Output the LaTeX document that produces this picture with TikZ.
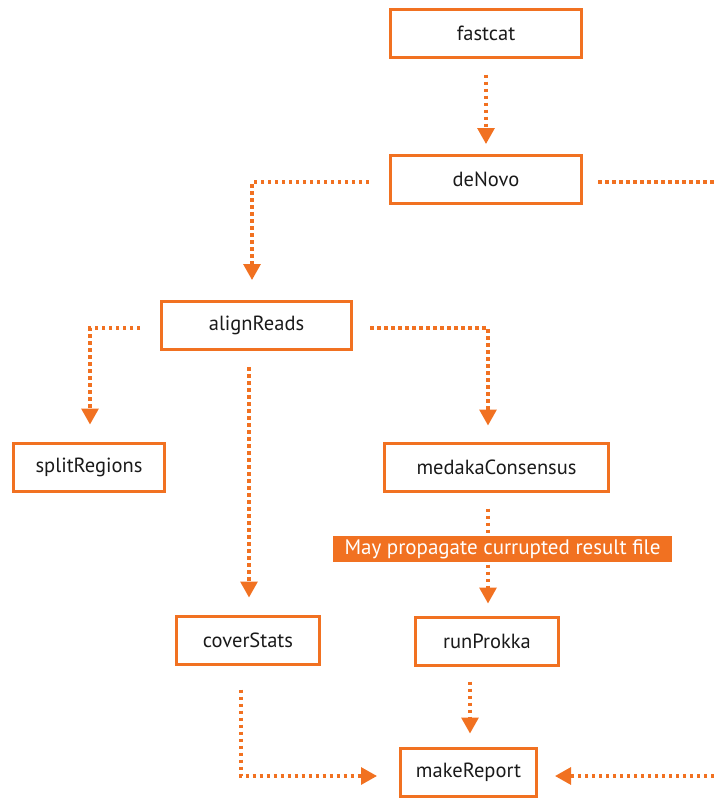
\documentclass[tikz,border=0pt]{standalone}
\usepackage{fontspec}
\setmainfont{PT Sans}
\usetikzlibrary{arrows.meta,calc}
\definecolor{flowor}{RGB}{241,113,33}
\definecolor{ink}{RGB}{26,26,26}
\tikzset{
  stepbox/.style={draw=flowor, line width=3pt, fill=white, rectangle,
    minimum height=48pt, inner sep=0pt, text=ink, font=\fontsize{20.5}{24}\selectfont},
  flow/.style={draw=flowor, line width=3.1pt, dash pattern=on 3.5pt off 3.5pt,
    -{Triangle[width=17pt,length=16pt]}},
  flowfree/.style={draw=flowor, line width=3.1pt, dash pattern=on 3.5pt off 3.5pt},
  warnlabel/.style={fill=flowor, text=white, inner sep=0pt, minimum height=26pt,
    minimum width=339pt, font=\fontsize{21}{24}\selectfont}
}
\begin{document}
\begin{tikzpicture}[x=1pt,y=-1pt]
\useasboundingbox (0,0) rectangle (714,798);

% pipeline steps
\node[stepbox, minimum width=191pt] (fastcat) at (486,33) {fastcat};
\node[stepbox, minimum width=191pt] (deNovo) at (486,179.5) {deNovo};
\node[stepbox, minimum width=190pt] (alignReads) at (256.5,325.5) {alignReads};
\node[stepbox, minimum width=151pt] (splitRegions) at (89,467) {splitRegions};
\node[stepbox, minimum width=224pt] (medaka) at (496.5,467) {medakaConsensus};
\node[stepbox, minimum width=143pt] (coverStats) at (248,640) {coverStats};
\node[stepbox, minimum width=143pt] (runProkka) at (487,641) {runProkka};
\node[stepbox, minimum width=136pt] (makeReport) at (468.5,772) {makeReport};

% loose ends leaving the right margin
\coordinate (rightTop) at (714,182);
\coordinate (rightBottom) at (714,776);

% connectors
\draw[flow, shorten <=16pt, shorten >=10pt] (fastcat.south) -- (deNovo.north);

\draw[flow, shorten >=20pt] ([xshift=-20pt,yshift=-2.5pt]deNovo.west)
  -| ([xshift=-4.5pt]alignReads.north);
\draw[flowfree] ([xshift=15pt,yshift=-2.5pt]deNovo.east) -- (rightTop);

\draw[flow, shorten >=17pt] ([xshift=-20pt,yshift=-2.5pt]alignReads.west)
  -| ([xshift=1pt]splitRegions.north);
\coordinate (arDown) at ([xshift=-7.5pt,yshift=-16pt]alignReads.south);
\draw[flow, shorten >=17pt] (arDown) -- (arDown |- coverStats.north);
\draw[flow, shorten >=16pt] ([xshift=17pt,yshift=-2.5pt]alignReads.east)
  -| ([xshift=-8.5pt]medaka.north);

\coordinate (mkDown) at ([xshift=-8.5pt,yshift=-16pt]medaka.south);
\draw[flow, shorten >=12pt] (mkDown) -- (mkDown |- runProkka.north);
\node[warnlabel] (warn) at (502.5,549) {May propagate currupted result file};

\coordinate (rpDown) at ([xshift=-17pt,yshift=-15pt]runProkka.south);
\draw[flow, shorten >=13pt] (rpDown) -- (rpDown |- makeReport.north);

\draw[flow, shorten >=22pt] ([xshift=-7pt,yshift=-24pt]coverStats.south)
  |- ([yshift=-4pt]makeReport.west);
\draw[flow, shorten >=17pt] (rightBottom) -- ([yshift=-4pt]makeReport.east);
\end{tikzpicture}
\end{document}
